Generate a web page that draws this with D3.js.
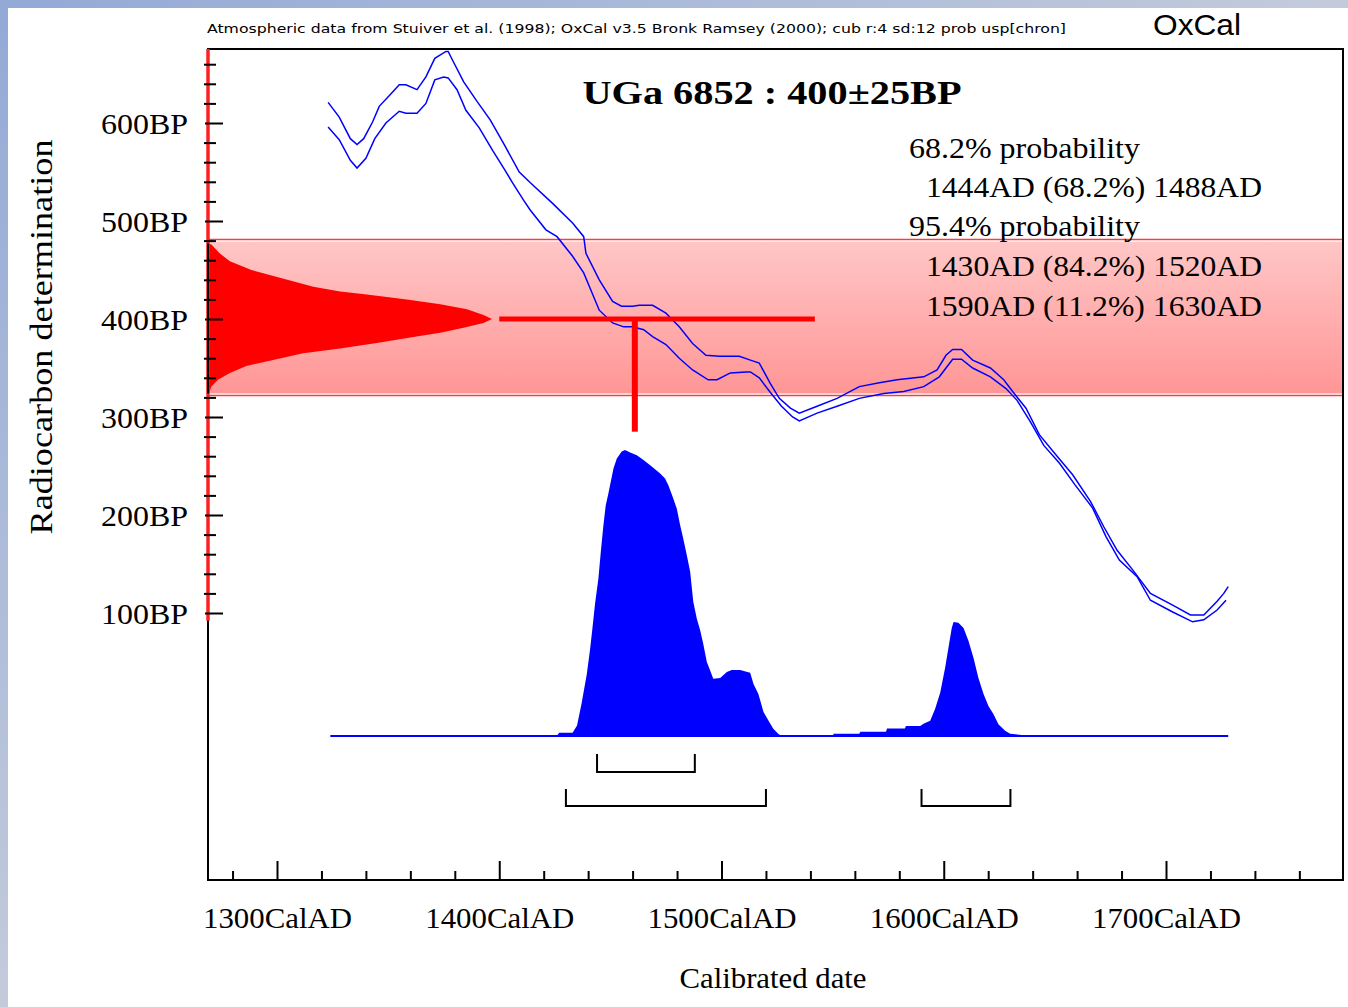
<!DOCTYPE html>
<html><head><meta charset="utf-8">
<script src="https://cdn.jsdelivr.net/npm/d3@7"></script>
<style>html,body{margin:0;padding:0;overflow:hidden;background:#fff}</style>
</head><body>
<svg id="c" width="1348" height="1007"></svg>
<script>
// ---------- DATA ----------
const yMajorTicks = [100, 200, 300, 400, 500, 600];
const yTickLabels = ["100BP", "200BP", "300BP", "400BP", "500BP", "600BP"];
const xMajorTicks = [1300, 1400, 1500, 1600, 1700];
const xTickLabels = ["1300CalAD", "1400CalAD", "1500CalAD", "1600CalAD", "1700CalAD"];

// calibration curve (upper and lower 1-sigma lines), year AD -> BP
const curveUpperYears = [1323,1328,1333,1336,1339,1343,1346,1351,1355,1358,1363,1367,1371,1376,1377,1379,1384,1390,1396,1402,1409,1414,1424,1433,1438,1439,1445,1451,1455,1460,1463,1469,1475,1481,1487,1493,1499,1508,1513,1517,1522,1526,1531,1535,1543,1552,1562,1571,1579,1591,1597,1601,1604,1608,1613,1621,1627,1631,1637,1643,1651,1658,1666,1672,1678,1685,1693,1703,1711,1717,1723,1726,1728];
const curveUpperBP    = [621,606,584,578,584,601,617,629,639,639,634,647,666,673,673,664,642,622,603,579,550,539,518,498,484,467,440,418,413,413,414,414,406,392,375,363,362,362,358,355,334,319,309,304,311,319,331,335,338,341,348,363,369,369,358,350,338,326,309,282,260,241,214,188,164,144,120,108,98,98,112,120,127];
const curveLowerYears = [1323,1328,1333,1336,1340,1344,1349,1355,1358,1363,1367,1371,1375,1377,1381,1385,1391,1397,1402,1406,1411,1414,1421,1426,1433,1438,1445,1451,1456,1460,1465,1469,1475,1481,1487,1494,1498,1504,1511,1513,1517,1522,1527,1532,1535,1543,1552,1562,1573,1582,1591,1598,1604,1608,1613,1621,1628,1633,1639,1645,1652,1659,1667,1673,1679,1687,1693,1703,1712,1717,1723,1727];
const curveLowerBP    = [596,583,562,554,564,584,600,612,610,610,620,644,647,646,634,613,595,572,554,539,521,511,491,484,464,447,409,396,392,392,389,382,374,360,348,338,338,345,346,346,340,325,311,300,296,304,311,319,324,326,331,341,359,359,350,341,329,317,295,271,253,231,207,178,154,137,113,101,91,93,103,113];

// calibrated date probability (relative, % of peak)
const calYears = [1324,1418,1426,1427,1433,1435,1437,1439.4,1440.9,1441.9,1443.1,1444.6,1445.7,1446.8,1447.9,1449.1,1450.2,1451.4,1452.9,1455.1,1456.6,1458.9,1461.9,1464.9,1468.6,1472.4,1474.6,1476.1,1478.3,1479.9,1481.4,1482.8,1484.4,1485.9,1487.3,1488.9,1490.4,1491.8,1493.4,1494.9,1496.3,1499.4,1502.4,1504.6,1508.4,1512.9,1514.4,1516.6,1518.9,1521.1,1523.3,1525.6,1527.1,1550,1550.5,1562,1562.5,1574,1574.5,1582.5,1583,1589.4,1590.9,1593.9,1596.1,1598.4,1600.6,1602.1,1603.6,1604.4,1606.6,1608.9,1611.1,1613.4,1615.6,1617.9,1620.1,1622.4,1624.6,1627.6,1629.9,1634.4,1636,1728];
const calProb  = [0,0,0.2,1.1,1.1,3.7,11.2,21.7,30.5,37.5,46.2,55.0,64.4,73.2,80.6,84.8,89.0,93.5,97.0,99.5,100,99.1,98.2,96.5,94.2,91.8,90.0,87.7,83.0,79.5,73.7,69.0,63.2,57.4,46.9,41.0,37.0,32.2,25.9,22.9,20.0,20.3,22.4,23.1,23.1,22.1,18.2,14.7,8.4,5.4,2.5,0.7,0,0,0.8,0.8,1.5,1.5,2.6,2.6,3.5,3.5,4.3,5.3,9.4,15.1,23.8,30.8,37.8,39.9,39.6,37.8,33.3,27.3,20.3,14.7,10.5,7.6,4.1,1.8,0.8,0.4,0,0];

// radiocarbon measurement distribution (BP -> relative %)
const c14BP   = [477,476,467,459,450,442,433,428,425,420,415,410,404,400,396,391,386,381,376,370,365,359,352,345,338,331,325,324];
const c14Prob = [0,1.2,4.1,7.7,15.3,25.3,37.1,46.5,55.9,70,81.8,91.2,97,100,97,90,81.8,71.2,60.6,46.5,33.5,24.1,13.5,7.7,3.5,1.2,0.5,0];

// measurement
const sampleName = "UGa 6852";
const sampleBP = 400, sampleErr = 25;
const bandBP = [481, 322];
const markerYears = [1400, 1542];
const markerYear = 1461;
const markerLowBP = 285;

// ranges
const ranges68 = [[1444, 1488]];
const ranges95 = [[1430, 1520], [1590, 1630]];
const probText = ["68.2% probability", "1444AD (68.2%) 1488AD", "95.4% probability", "1430AD (84.2%) 1520AD", "1590AD (11.2%) 1630AD"];
const headerText = "Atmospheric data from Stuiver et al. (1998); OxCal v3.5 Bronk Ramsey (2000); cub r:4 sd:12 prob usp[chron]";

// ---------- LAYOUT ----------
const W = 1348, H = 1007;
const plotLeft = 208, plotRight = 1343, plotTop = 49, plotBottom = 880;
const SERIF = "'Liberation Serif','Times New Roman',serif";

const svg = d3.select("#c");
const defs = svg.append("defs");

const x = d3.scaleLinear().domain([1300, 1700]).range([277, 1166]);
const y = d3.scaleLinear().domain([100, 600]).range([613, 123]);
const pCal = d3.scaleLinear().domain([0, 100]).range([736, 450]);
const pC14 = d3.scaleLinear().domain([0, 100]).range([plotLeft, 492]);

// background frame
const bg = defs.append("linearGradient").attr("id", "bgGrad")
  .attr("x1", 0).attr("y1", 0).attr("x2", 1).attr("y2", 1);
bg.append("stop").attr("offset", "0%").attr("stop-color", "#93a9d6");
bg.append("stop").attr("offset", "50%").attr("stop-color", "#c3cbdb");
bg.append("stop").attr("offset", "100%").attr("stop-color", "#d6dae2");
svg.append("rect").attr("width", W).attr("height", H).attr("fill", "url(#bgGrad)");
svg.append("rect").attr("x", 8).attr("y", 8).attr("width", W - 8).attr("height", H - 8).attr("fill", "#fff");

// header
svg.append("text").attr("x", 207).attr("y", 33)
  .attr("font-family", "'DejaVu Sans Condensed','DejaVu Sans',sans-serif")
  .attr("font-size", 12)
  .attr("textLength", 859).attr("lengthAdjust", "spacingAndGlyphs")
  .text(headerText);
svg.append("text").attr("x", 1153).attr("y", 35)
  .attr("font-family", "'Liberation Sans',Arial,sans-serif")
  .attr("font-size", 30).attr("textLength", 88).attr("lengthAdjust", "spacingAndGlyphs")
  .text("OxCal");

// band
const bandGrad = defs.append("linearGradient").attr("id", "bandGrad")
  .attr("x1", 0).attr("y1", 0).attr("x2", 0).attr("y2", 1);
bandGrad.append("stop").attr("offset", "0%").attr("stop-color", "#ffc6c6");
bandGrad.append("stop").attr("offset", "100%").attr("stop-color", "#ff9696");
const bTop = y(bandBP[0]), bBot = y(bandBP[1]);
svg.append("rect").attr("x", plotLeft).attr("y", bTop + 2).attr("width", plotRight - plotLeft)
  .attr("height", bBot - bTop - 4).attr("fill", "url(#bandGrad)");
[bTop, bBot].forEach(v => svg.append("line")
  .attr("x1", plotLeft).attr("x2", plotRight).attr("y1", v).attr("y2", v)
  .attr("stroke", "#ff3a3a").attr("stroke-width", 1.5));

// probability texts
const ptY = [158, 197, 236, 276, 316];
const ptX = [909, 926, 909, 926, 926];
const ptW = [231, 336, 231, 336, 336];
probText.forEach((t, i) => svg.append("text")
  .attr("x", ptX[i]).attr("y", ptY[i])
  .attr("font-family", SERIF).attr("font-size", 30)
  .attr("textLength", ptW[i]).attr("lengthAdjust", "spacingAndGlyphs")
  .text(t));

// calibration curve
const lineGen = d3.line().x(d => x(d[0])).y(d => y(d[1]));
const upper = curveUpperYears.map((v, i) => [v, curveUpperBP[i]]);
const lower = curveLowerYears.map((v, i) => [v, curveLowerBP[i]]);
[upper, lower].forEach(s => svg.append("path").attr("d", lineGen(s))
  .attr("fill", "none").attr("stroke", "#0000ff").attr("stroke-width", 1.5));

// radiocarbon distribution (red)
const c14 = c14BP.map((v, i) => [v, c14Prob[i]]);
svg.append("path")
  .attr("d", d3.area().y(d => y(d[0])).x0(pC14(0)).x1(d => pC14(d[1]))(c14))
  .attr("fill", "#ff0000");

// marker lines
svg.append("line").attr("x1", x(markerYears[0])).attr("x2", x(markerYears[1]))
  .attr("y1", y(sampleBP)).attr("y2", y(sampleBP))
  .attr("stroke", "#ff0000").attr("stroke-width", 5);
svg.append("line").attr("x1", x(markerYear)).attr("x2", x(markerYear))
  .attr("y1", y(sampleBP)).attr("y2", y(markerLowBP))
  .attr("stroke", "#ff0000").attr("stroke-width", 6);

// calibrated distribution (blue)
const cal = calYears.map((v, i) => [v, calProb[i]]);
svg.append("path")
  .attr("d", d3.area().x(d => x(d[0])).y0(pCal(0)).y1(d => pCal(d[1]))(cal))
  .attr("fill", "#0000ff");
svg.append("line").attr("x1", x(calYears[0])).attr("x2", x(calYears[calYears.length - 1]))
  .attr("y1", pCal(0)).attr("y2", pCal(0)).attr("stroke", "#0000ff").attr("stroke-width", 2);

// range brackets
function bracket(r, yy, h) {
  svg.append("path")
    .attr("d", `M${x(r[0])},${yy - h}V${yy}H${x(r[1])}V${yy - h}`)
    .attr("fill", "none").attr("stroke", "#000").attr("stroke-width", 2);
}
ranges68.forEach(r => bracket(r, 772, 18));
ranges95.forEach(r => bracket(r, 806, 17));

// frame
svg.append("rect").attr("x", plotLeft).attr("y", plotTop)
  .attr("width", plotRight - plotLeft).attr("height", plotBottom - plotTop)
  .attr("fill", "none").attr("stroke", "#000").attr("stroke-width", 2);
svg.append("line").attr("x1", plotLeft).attr("x2", plotLeft)
  .attr("y1", plotTop).attr("y2", y(92)).attr("stroke", "#ff2020").attr("stroke-width", 3.5);
svg.append("line").attr("x1", plotLeft).attr("x2", plotLeft)
  .attr("y1", y(c14BP[0])).attr("y2", y(c14BP[c14BP.length - 1])).attr("stroke", "#000").attr("stroke-width", 2);

// x axis ticks
const xMinor = d3.range(1280, 1780, 20).filter(v => v % 100 !== 0);
function styleAxis(g) {
  g.select(".domain").remove();
  g.selectAll("line").attr("stroke", "#000").attr("stroke-width", 2);
}
svg.append("g").attr("transform", `translate(0,${plotBottom})`)
  .call(d3.axisTop(x).tickValues(xMajorTicks).tickSize(19).tickFormat(""))
  .call(styleAxis);
svg.append("g").attr("transform", `translate(0,${plotBottom})`)
  .call(d3.axisTop(x).tickValues(xMinor).tickSize(9).tickFormat(""))
  .call(styleAxis);
const xl = svg.append("g").attr("transform", `translate(0,${plotBottom})`)
  .call(d3.axisBottom(x).tickValues(xMajorTicks).tickSize(0).tickFormat((d, i) => xTickLabels[i]));
xl.select(".domain").remove();
xl.selectAll("text").attr("y", 48).attr("dy", 0)
  .attr("font-family", SERIF).attr("font-size", 30).attr("fill", "#000")
  .attr("textLength", 149).attr("lengthAdjust", "spacingAndGlyphs");

// y axis ticks
const yMinor = d3.range(100, 680, 20).filter(v => v % 100 !== 0);
svg.append("g").attr("transform", `translate(${plotLeft - 3},0)`)
  .call(d3.axisRight(y).tickValues(yMajorTicks).tickSize(18).tickFormat(""))
  .call(styleAxis);
svg.append("g").attr("transform", `translate(${plotLeft - 4},0)`)
  .call(d3.axisRight(y).tickValues(yMinor).tickSize(12).tickFormat(""))
  .call(styleAxis);
const yl = svg.append("g").attr("transform", `translate(${plotLeft},0)`)
  .call(d3.axisLeft(y).tickValues(yMajorTicks).tickSize(0).tickPadding(20).tickFormat((d, i) => yTickLabels[i]));
yl.select(".domain").remove();
yl.selectAll("text").attr("dy", "0.34em")
  .attr("font-family", SERIF).attr("font-size", 30).attr("fill", "#000")
  .attr("textLength", 87).attr("lengthAdjust", "spacingAndGlyphs");

// axis titles
svg.append("text").attr("x", 773).attr("y", 988).attr("text-anchor", "middle")
  .attr("font-family", SERIF).attr("font-size", 30)
  .attr("textLength", 187).attr("lengthAdjust", "spacingAndGlyphs")
  .text("Calibrated date");
svg.append("text").attr("transform", "translate(52,337) rotate(-90)").attr("text-anchor", "middle")
  .attr("font-family", SERIF).attr("font-size", 31)
  .attr("textLength", 395).attr("lengthAdjust", "spacingAndGlyphs")
  .text("Radiocarbon determination");

// title
svg.append("text").attr("x", 772).attr("y", 104).attr("text-anchor", "middle")
  .attr("font-family", SERIF).attr("font-size", 34).attr("font-weight", "bold")
  .attr("textLength", 379).attr("lengthAdjust", "spacingAndGlyphs")
  .text(`${sampleName} : ${sampleBP}\u00B1${sampleErr}BP`);
</script>
</body></html>
